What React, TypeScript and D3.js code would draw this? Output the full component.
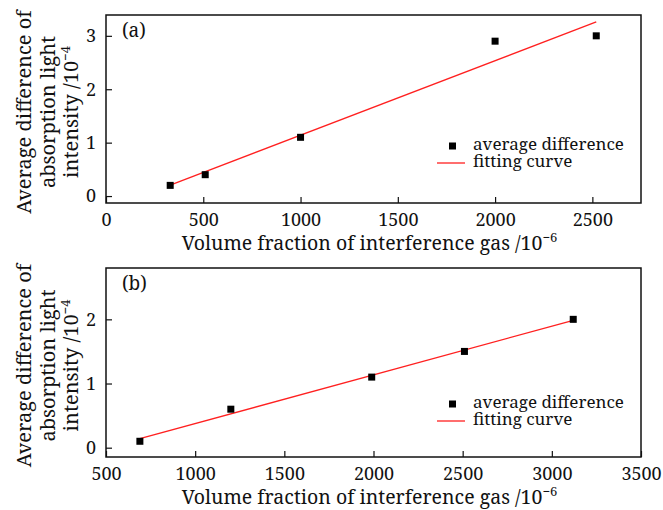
import { useEffect, useRef } from 'react';
import * as d3 from 'd3';

// panel (a)
const fracA = [330, 510, 1000, 2000, 2520];
const diffA = [0.2, 0.4, 1.1, 2.9, 3.0];
const xTicksA = [0, 500, 1000, 1500, 2000, 2500];
const yTicksA = [0, 1, 2, 3];

// panel (b)
const fracB = [690, 1200, 1990, 2510, 3120];
const diffB = [0.1, 0.6, 1.1, 1.5, 2.0];
const xTicksB = [500, 1000, 1500, 2000, 2500, 3000, 3500];
const yTicksB = [0, 1, 2];

const yTitleLines = ['Average difference of', 'absorption light', 'intensity /10'];
const xTitle = 'Volume fraction of interference gas /10';
const legendLabels = ['average difference', 'fitting curve'];

const FONT = 'Noto Serif';

// least squares fit through the points
const fit = (xs: number[], ys: number[]) => {
  const mx = d3.mean(xs)!;
  const my = d3.mean(ys)!;
  let sxy = 0, sxx = 0;
  xs.forEach((x, i) => {
    sxy += (x - mx) * (ys[i] - my);
    sxx += (x - mx) * (x - mx);
  });
  const k = sxy / sxx;
  const ends = d3.extent(xs) as [number, number];
  return ends.map(x => ({ x, y: my + k * (x - mx) }));
};

const App = () => {
  const ref = useRef<SVGSVGElement>(null);

  useEffect(() => {
    const svg = d3.select(ref.current);
    svg.selectAll('*').remove();

    const drawPanel = (cfg: any) => {
      const { xs, ys, xDomain, yDomain, xTicks, yTicks, top, bottom, label, legendY, titleY } = cfg;
      const left = 106, right = 641;
      const x = d3.scaleLinear().domain(xDomain).range([left, right]);
      const y = d3.scaleLinear().domain(yDomain).range([bottom, top]);
      const g = svg.append('g');

      const xAxis = g.append('g')
        .attr('transform', `translate(0,${bottom})`)
        .call(d3.axisBottom(x).tickValues(xTicks).tickSizeInner(-6).tickSizeOuter(0).tickPadding(10).tickFormat(d3.format('d')));
      const yAxis = g.append('g')
        .attr('transform', `translate(${left},0)`)
        .call(d3.axisLeft(y).tickValues(yTicks).tickSizeInner(-6).tickSizeOuter(0).tickPadding(10).tickFormat(d3.format('d')));
      [xAxis, yAxis].forEach(a => {
        a.select('.domain').remove();
        a.attr('font-family', null).attr('font-size', null);
        a.selectAll('.tick line').attr('stroke', '#111').attr('stroke-width', 1.2);
        a.selectAll('.tick text').attr('fill', '#111')
          .style('font-family', FONT).style('font-size', '18px');
      });

      g.append('rect')
        .attr('x', left).attr('y', top)
        .attr('width', right - left).attr('height', bottom - top)
        .attr('fill', 'none').attr('stroke', '#111').attr('stroke-width', 1.5);

      const line = fit(xs, ys);
      g.append('path')
        .attr('d', d3.line<any>().x(d => x(d.x)).y(d => y(d.y))(line))
        .attr('stroke', '#ff2020').attr('stroke-width', 1.3).attr('fill', 'none');

      g.selectAll('rect.pt').data(xs).enter().append('rect')
        .attr('class', 'pt')
        .attr('x', (d: number) => x(d) - 3.5)
        .attr('y', (d: number, i: number) => y(ys[i]) - 3.5)
        .attr('width', 7).attr('height', 7)
        .attr('fill', '#000');

      // panel label
      g.append('text').text(label)
        .attr('x', 122).attr('y', top + 22)
        .style('font-family', FONT).style('font-size', '19px').attr('fill', '#111');

      // legend
      g.append('rect').attr('x', 449).attr('y', legendY - 3.5).attr('width', 7).attr('height', 7).attr('fill', '#000');
      g.append('text').text(legendLabels[0])
        .attr('x', 473).attr('y', legendY + 4)
        .style('font-family', FONT).style('font-size', '17px').attr('fill', '#111');
      g.append('line')
        .attr('x1', 437).attr('x2', 465).attr('y1', legendY + 17).attr('y2', legendY + 17)
        .attr('stroke', '#ff2020').attr('stroke-width', 1.3);
      g.append('text').text(legendLabels[1])
        .attr('x', 473).attr('y', legendY + 21)
        .style('font-family', FONT).style('font-size', '17px').attr('fill', '#111');

      // x title
      const xt = g.append('text')
        .attr('x', (left + right) / 2 - 4).attr('y', titleY)
        .attr('text-anchor', 'middle')
        .style('font-family', FONT).style('font-size', '19.5px').attr('fill', '#111');
      xt.append('tspan').text(xTitle);
      xt.append('tspan').text('\u22126').style('font-size', '13px').attr('dy', -8);

      // y title
      const cy = (top + bottom) / 2 + 3;
      const baselines = [31, 55, 78];
      yTitleLines.forEach((t, i) => {
        const tx = g.append('text')
          .attr('transform', `translate(${baselines[i]},${cy}) rotate(-90)`)
          .attr('text-anchor', 'middle')
          .style('font-family', FONT).style('font-size', '20px').attr('fill', '#111');
        tx.append('tspan').text(t);
        if (i === 2) tx.append('tspan').text('\u22124').style('font-size', '13px').attr('dy', -8);
      });
    };

    drawPanel({
      xs: fracA, ys: diffA, xDomain: [0, 2750], yDomain: [-0.13, 3.39],
      xTicks: xTicksA, yTicks: yTicksA, top: 15, bottom: 203, label: '(a)', legendY: 146, titleY: 250,
    });
    drawPanel({
      xs: fracB, ys: diffB, xDomain: [500, 3500], yDomain: [-0.145, 2.8],
      xTicks: xTicksB, yTicks: yTicksB, top: 268, bottom: 457, label: '(b)', legendY: 404, titleY: 504,
    });
  }, []);

  return (
    <svg ref={ref} width={663} height={510}
      style={{ position: 'absolute', left: 0, top: 0, background: '#fff' }} />
  );
};

export default App;
